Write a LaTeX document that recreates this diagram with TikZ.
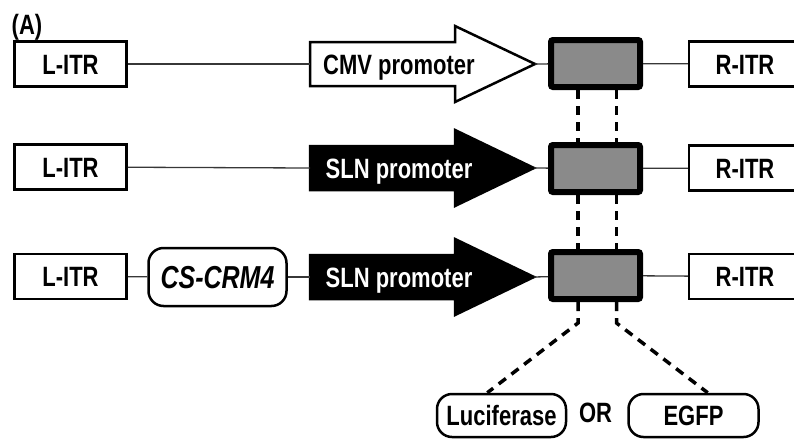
\documentclass[tikz,border=0pt]{standalone}
\usepackage{fontspec}
\setmainfont{Liberation Sans}
\usepackage{graphicx}
\definecolor{genegray}{RGB}{138,138,138}
\definecolor{linegray}{RGB}{55,55,55}
\newcommand{\tallbf}[1]{\scalebox{1}[1.27]{#1}}

\begin{document}
\begin{tikzpicture}[x=1pt,y=-1pt,
        lab/.style={font=\fontsize{22}{24}\selectfont\bfseries, text height=20pt, text depth=0pt, inner sep=0pt},
        itr/.style={lab, draw, line width=2.5pt, minimum width=112pt, minimum height=45pt},
        gene/.style={draw, line width=6pt, fill=genegray, rounded corners=2pt, minimum width=89pt, minimum height=47pt, inner sep=0pt},
        roundbox/.style={lab, draw, line width=2.5pt, rounded corners=15pt},
        link/.style={linegray, line width=1.3pt},
        dashline/.style={line width=3.5pt, dash pattern=on 9pt off 7pt},
        promoter/.style={line width=2.5pt, line join=miter}]
    \useasboundingbox (0,0) rectangle (794,439);
    \clip (0,0) rectangle (794,439);
    \node[lab] (tagA) at (27,24) {\tallbf{(A)}};

    % CMV construct
    \node[itr] (litr1) at (70.5,64) {\tallbf{L-ITR}};
    \coordinate (tail1) at (310,64);
    \coordinate (tip1) at (535,64);
    \draw[promoter, fill=white] (tail1) ++(0,-22) -- ++(145,0) -- ++(0,-16) -- (tip1)
        -- ++(-80,38) -- ++(0,-16) -- ++(-145,0) -- cycle;
    \node[lab] (prom1) at (399,64) {\tallbf{CMV promoter}};
    \node[gene] (gene1) at (595.5,63.5) {};
    \node[itr] (ritr1) at (745,64) {\tallbf{R-ITR}};
    \draw[link] (litr1) -- (tail1);
    \draw[link] (tip1) -- (gene1);
    \draw[link] (gene1) -- (ritr1);

    % SLN construct
    \node[itr] (litr2) at (70.5,167) {\tallbf{L-ITR}};
    \coordinate (tail2) at (310,168);
    \coordinate (tip2) at (534,168);
    \draw[promoter, fill=black] (tail2) ++(0,-22) -- ++(145,0) -- ++(0,-16) -- (tip2)
        -- ++(-79,38) -- ++(0,-16) -- ++(-145,0) -- cycle;
    \node[lab, text=white] (prom2) at (399,168) {\tallbf{SLN promoter}};
    \node[gene] (gene2) at (595.5,168.5) {};
    \node[itr] (ritr2) at (745,168) {\tallbf{R-ITR}};
    \draw[link] (litr2) -- (tail2);
    \draw[link] (tip2) -- (gene2);
    \draw[link] (gene2) -- (ritr2);

    % CS-CRM4 + SLN construct
    \node[itr] (litr3) at (70.5,276.5) {\tallbf{L-ITR}};
    \node[roundbox, font=\fontsize{25}{28}\selectfont\bfseries\itshape, text height=23pt,
        minimum width=138pt, minimum height=58pt] (crm) at (217.5,277) {\tallbf{CS-CRM4}};
    \coordinate (tail3) at (310,277);
    \coordinate (tip3) at (534,277);
    \draw[promoter, fill=black] (tail3) ++(0,-22) -- ++(145,0) -- ++(0,-16) -- (tip3)
        -- ++(-79,38) -- ++(0,-16) -- ++(-145,0) -- cycle;
    \node[lab, text=white] (prom3) at (399,277) {\tallbf{SLN promoter}};
    \node[gene] (gene3) at (595.5,275.5) {};
    \node[itr] (ritr3) at (745,276.5) {\tallbf{R-ITR}};
    \draw[link] (litr3) -- (crm);
    \draw[link] (crm) -- (tail3);
    \draw[link] (tip3) -- (gene3);
    \draw[link] (gene3) -- (ritr3);

    % reporters
    \node[roundbox, minimum width=129pt, minimum height=43pt] (luc) at (501.5,415.5) {\tallbf{Luciferase}};
    \node[lab] (orword) at (595.5,412) {\tallbf{OR}};
    \node[roundbox, minimum width=130pt, minimum height=43pt] (egfp) at (693.5,415.5) {\tallbf{EGFP}};

    \draw[dashline] ([xshift=-17.5pt]gene1.south) -- ([xshift=-17.5pt]gene2.north);
    \draw[dashline] ([xshift=21pt]gene1.south) -- ([xshift=21pt]gene2.north);
    \draw[dashline] ([xshift=-17.5pt]gene2.south) -- ([xshift=-17.5pt]gene3.north);
    \draw[dashline] ([xshift=21pt]gene2.south) -- ([xshift=21pt]gene3.north);
    \draw[dashline] ([xshift=-17.5pt]gene3.south) -- ++(0,21) -- (luc.122);
    \draw[dashline] ([xshift=21pt]gene3.south) -- ++(0,21) -- (egfp.58);
\end{tikzpicture}
\end{document}
